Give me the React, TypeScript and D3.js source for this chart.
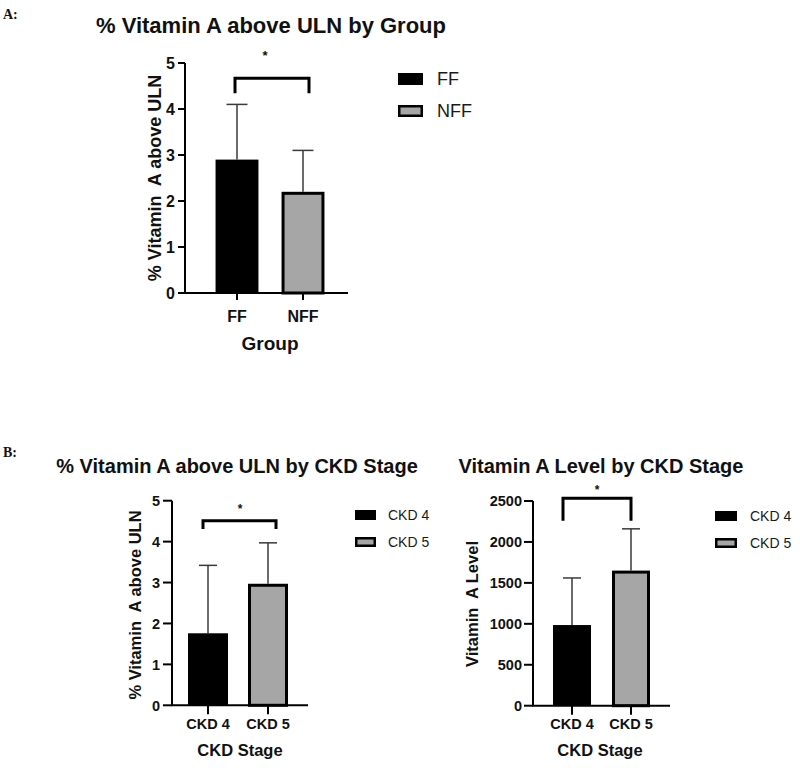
import React from "react";
import * as d3 from "d3";

// ---------- DATA ----------
const groupCategories = ["FF", "NFF"];
const groupMeans = [2.9, 2.2];
const groupErrors = [1.2, 0.9];
const groupTicks = [0, 1, 2, 3, 4, 5];

const stageCategories = ["CKD 4", "CKD 5"];
const stagePctMeans = [1.76, 2.97];
const stagePctErrors = [1.66, 1.0];
const stagePctTicks = [0, 1, 2, 3, 4, 5];

const stageLevelMeans = [985, 1650];
const stageLevelErrors = [575, 510];
const stageLevelTicks = [0, 500, 1000, 1500, 2000, 2500];

const BLACK = "#000000";
const GRAY = "#a6a6a6";
const barFills = [BLACK, GRAY];

const FONT = "Arial, 'Liberation Sans', Helvetica, sans-serif";
const SERIF = "'Times New Roman', 'Liberation Serif', serif";

type Layout = {
  axisX: number; yBottom: number; yTop: number; xEnd: number;
  band: [number, number]; pi: number; po: number;
  yTickLen: number; yLabelEnd: number; yTickFont: number;
  xTickLen: number; xLabelY: number; xTickFont: number;
  title: string; titleX: number; titleY: number; titleSize: number;
  yTitle: string; yTitleX: number; yTitleY: number; yTitleSize: number;
  xTitle: string; xTitleX: number; xTitleY: number; xTitleSize: number;
  capW: number;
  bracketVal: number; bracketLegVal: number; bracketOff: [number, number];
  starX: number; starY: number; starSize: number;
  legX: number; legRows: number[]; legW: number; legH: number; legTextX: number; legSize: number;
  axisW: number;
};

function Panel({ cats, means, errs, ticks, max, L }: {
  cats: string[]; means: number[]; errs: number[]; ticks: number[]; max: number; L: Layout;
}) {
  const y = d3.scaleLinear().domain([0, max]).range([L.yBottom, L.yTop]);
  const x = d3.scaleBand<string>().domain(cats).range(L.band).paddingInner(L.pi).paddingOuter(L.po);
  const bw = x.bandwidth();
  const cx = (c: string) => (x(c) as number) + bw / 2;
  const bx1 = cx(cats[0]) + L.bracketOff[0];
  const bx2 = cx(cats[1]) + L.bracketOff[1];
  const by = y(L.bracketVal);
  const byl = y(L.bracketLegVal);
  return (
    <g>
      <text x={L.titleX} y={L.titleY} textAnchor="middle" fontFamily={FONT} fontWeight="bold" fontSize={L.titleSize} fill="#111">{L.title}</text>
      {/* error bars (upper) */}
      {cats.map((c, i) => (
        <g key={"e" + c} stroke="#3a3a3a" strokeWidth={1.5}>
          <line x1={cx(c)} x2={cx(c)} y1={y(means[i])} y2={y(means[i] + errs[i])} />
          <line x1={cx(c) - L.capW / 2} x2={cx(c) + L.capW / 2} y1={y(means[i] + errs[i])} y2={y(means[i] + errs[i])} />
        </g>
      ))}
      {/* bars */}
      {cats.map((c, i) => {
        const fill = barFills[i];
        const x0 = x(c) as number;
        if (fill === BLACK) {
          return <rect key={c} x={x0} y={y(means[i])} width={bw} height={y(0) - y(means[i])} fill={BLACK} />;
        }
        return <rect key={c} x={x0 + 1.5} y={y(means[i]) + 1.5} width={bw - 3} height={y(0) - y(means[i]) - 1.5} fill={fill} stroke={BLACK} strokeWidth={3} />;
      })}
      {/* axes */}
      <line x1={L.axisX} x2={L.axisX} y1={L.yTop} y2={L.yBottom} stroke={BLACK} strokeWidth={L.axisW} />
      <line x1={L.axisX - L.axisW / 2} x2={L.xEnd} y1={L.yBottom} y2={L.yBottom} stroke={BLACK} strokeWidth={L.axisW} />
      {ticks.map((t) => (
        <g key={"yt" + t}>
          <line x1={L.axisX - L.yTickLen} x2={L.axisX} y1={y(t)} y2={y(t)} stroke={BLACK} strokeWidth={L.axisW} />
          <text x={L.yLabelEnd} y={y(t)} dy="0.36em" textAnchor="end" fontFamily={FONT} fontWeight="bold" fontSize={L.yTickFont} fill="#111">{t}</text>
        </g>
      ))}
      {cats.map((c) => (
        <g key={"xt" + c}>
          <line x1={cx(c)} x2={cx(c)} y1={L.yBottom} y2={L.yBottom + L.xTickLen} stroke={BLACK} strokeWidth={L.axisW} />
          <text x={cx(c)} y={L.xLabelY} textAnchor="middle" fontFamily={FONT} fontWeight="bold" fontSize={L.xTickFont} fill="#111">{c}</text>
        </g>
      ))}
      <text transform={`translate(${L.yTitleX},${L.yTitleY}) rotate(-90)`} textAnchor="middle" dy="0.36em" fontFamily={FONT} fontWeight="bold" fontSize={L.yTitleSize} fill="#111" style={{ whiteSpace: "pre" }}>{L.yTitle}</text>
      <text x={L.xTitleX} y={L.xTitleY} textAnchor="middle" fontFamily={FONT} fontWeight="bold" fontSize={L.xTitleSize} fill="#111">{L.xTitle}</text>
      {/* significance bracket */}
      <path d={`M${bx1},${byl} V${by} H${bx2} V${byl}`} fill="none" stroke={BLACK} strokeWidth={3} />
      <text x={L.starX} y={L.starY} dy="0.55em" textAnchor="middle" fontFamily={FONT} fontWeight="bold" fontSize={L.starSize} fill="#111">*</text>
      {/* legend */}
      {cats.map((c, i) => (
        <g key={"lg" + c}>
          {barFills[i] === BLACK ? (
            <rect x={L.legX} y={L.legRows[i]} width={L.legW} height={L.legH} fill={BLACK} />
          ) : (
            <rect x={L.legX + 1.25} y={L.legRows[i] + 1.25} width={L.legW - 2.5} height={L.legH - 2.5} fill={GRAY} stroke={BLACK} strokeWidth={2.5} />
          )}
          <text x={L.legTextX} y={L.legRows[i] + L.legH / 2} dy="0.36em" fontFamily={FONT} fontSize={L.legSize} fill="#1a1a1a">{c}</text>
        </g>
      ))}
    </g>
  );
}

const layoutA: Layout = {
  axisX: 185, yBottom: 293, yTop: 63, xEnd: 348,
  band: [204, 336], pi: 0.35, po: 0.175,
  yTickLen: 7, yLabelEnd: 175, yTickFont: 16,
  xTickLen: 7, xLabelY: 322, xTickFont: 16,
  title: "% Vitamin A above ULN by Group", titleX: 271, titleY: 33, titleSize: 22,
  yTitle: "% Vitamin  A above ULN", yTitleX: 155, yTitleY: 178, yTitleSize: 18,
  xTitle: "Group", xTitleX: 270, xTitleY: 350, xTitleSize: 19,
  capW: 21,
  bracketVal: 4.67, bracketLegVal: 4.34, bracketOff: [-2, 6],
  starX: 265, starY: 53, starSize: 13,
  legX: 398, legRows: [73, 105], legW: 25, legH: 12, legTextX: 437, legSize: 18,
  axisW: 2,
};

const layoutB1: Layout = {
  axisX: 172, yBottom: 705.3, yTop: 500.7, xEnd: 308,
  band: [178, 298], pi: 1 / 3, po: 1 / 6,
  yTickLen: 9, yLabelEnd: 160, yTickFont: 14.5,
  xTickLen: 9, xLabelY: 729, xTickFont: 14.5,
  title: "% Vitamin A above ULN by CKD Stage", titleX: 237, titleY: 473, titleSize: 20,
  yTitle: "% Vitamin  A above ULN", yTitleX: 135, yTitleY: 605, yTitleSize: 16.5,
  xTitle: "CKD Stage", xTitleX: 240, xTitleY: 756, xTitleSize: 16.5,
  capW: 18,
  bracketVal: 4.51, bracketLegVal: 4.31, bracketOff: [-5, 8],
  starX: 240, starY: 506, starSize: 12,
  legX: 355, legRows: [510, 537], legW: 21, legH: 10, legTextX: 388, legSize: 14,
  axisW: 2,
};

const layoutB2: Layout = {
  axisX: 533, yBottom: 705.7, yTop: 501, xEnd: 670,
  band: [542.5, 660.5], pi: 0.356, po: 0.178,
  yTickLen: 9, yLabelEnd: 522, yTickFont: 14.5,
  xTickLen: 9, xLabelY: 729, xTickFont: 14.5,
  title: "Vitamin A Level by CKD Stage", titleX: 601, titleY: 473, titleSize: 20,
  yTitle: "Vitamin  A Level", yTitleX: 472, yTitleY: 604, yTitleSize: 16.5,
  xTitle: "CKD Stage", xTitleX: 600, xTitleY: 756, xTitleSize: 16.5,
  capW: 18,
  bracketVal: 2533, bracketLegVal: 2259, bracketOff: [-9, 0],
  starX: 597, starY: 487, starSize: 12,
  legX: 715, legRows: [511, 538], legW: 22, legH: 10, legTextX: 750, legSize: 14,
  axisW: 2,
};

export default function App() {
  return (
    <svg width={800} height={768} viewBox="0 0 800 768" style={{ position: "absolute", left: 0, top: 0, background: "#fff" }}>
      <rect width={800} height={768} fill="#fff" />
      <text x={3} y={19} fontFamily={SERIF} fontWeight="bold" fontSize={14} fill="#111">A:</text>
      <text x={3} y={457} fontFamily={SERIF} fontWeight="bold" fontSize={14} fill="#111">B:</text>
      <Panel cats={groupCategories} means={groupMeans} errs={groupErrors} ticks={groupTicks} max={5} L={layoutA} />
      <Panel cats={stageCategories} means={stagePctMeans} errs={stagePctErrors} ticks={stagePctTicks} max={5} L={layoutB1} />
      <Panel cats={stageCategories} means={stageLevelMeans} errs={stageLevelErrors} ticks={stageLevelTicks} max={2500} L={layoutB2} />
    </svg>
  );
}
